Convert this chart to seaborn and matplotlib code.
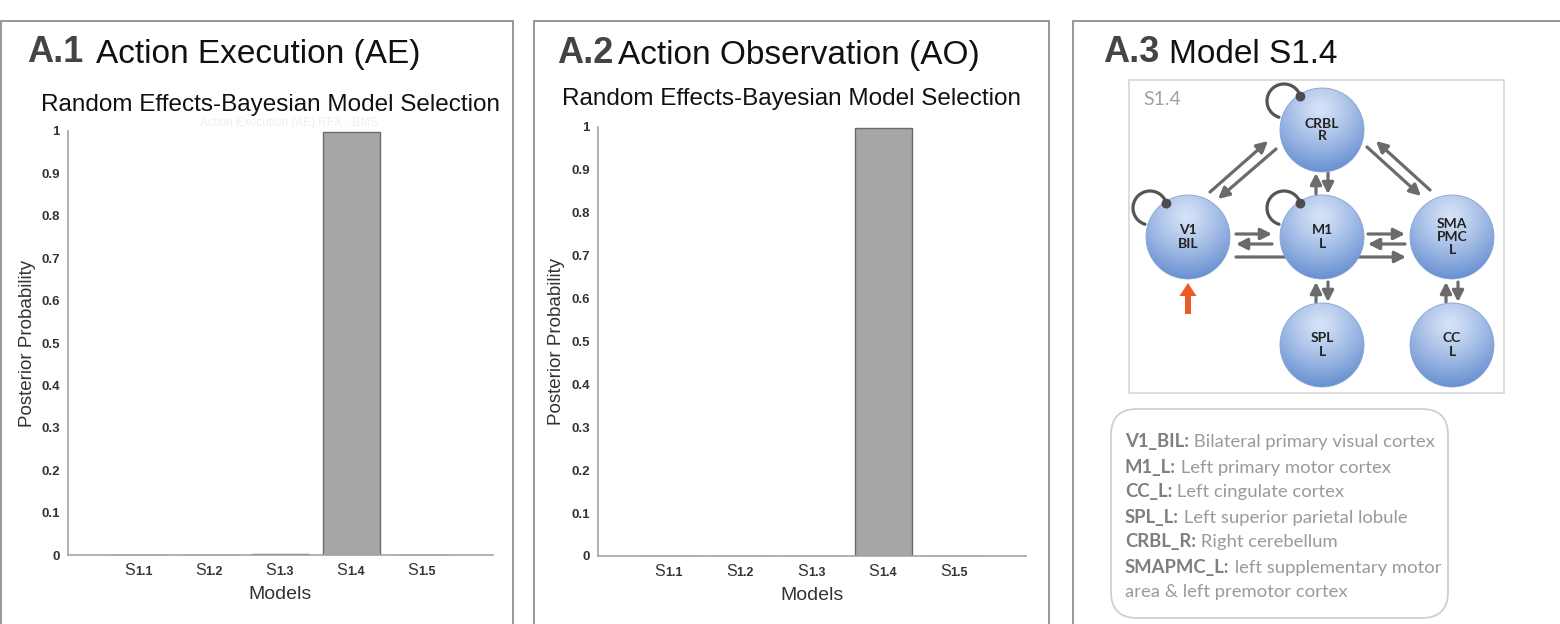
import numpy as np
import pandas as pd
import matplotlib
matplotlib.use("Agg")
import matplotlib.pyplot as plt
import seaborn as sns
from matplotlib import transforms
from matplotlib.patches import Circle, FancyBboxPatch, Rectangle, FancyArrow

# ---------------- data ----------------
models = ["S1.1", "S1.2", "S1.3", "S1.4", "S1.5"]
ae_prob = [0.0, 0.0, 0.003, 0.997, 0.0]
ao_prob = [0.001, 0.0, 0.0, 0.998, 0.001]
y_ticks = [0, 0.1, 0.2, 0.3, 0.4, 0.5, 0.6, 0.7, 0.8, 0.9, 1]
y_tick_labels = ["0", "0.1", "0.2", "0.3", "0.4", "0.5", "0.6", "0.7", "0.8", "0.9", "1"]

panel_tags = ["A.1", "A.2", "A.3"]
panel_titles = ["Action Execution (AE)", "Action Observation (AO)", "Model S1.4"]
subtitle = "Random Effects-Bayesian Model Selection"

node_names = ["CRBL", "V1", "M1", "SMA", "SPL", "CC"]
node_labels = ["CRBL\nR", "V1\nBIL", "M1\nL", "SMA\nPMC\nL", "SPL\nL", "CC\nL"]
self_loops = ["CRBL", "V1", "M1"]
connections = [("V1", "CRBL"), ("CRBL", "V1"), ("CRBL", "SMA"), ("SMA", "CRBL"),
               ("M1", "CRBL"), ("CRBL", "M1"), ("V1", "M1"), ("M1", "V1"),
               ("V1", "SMA"), ("M1", "SMA"), ("SMA", "M1"), ("SPL", "M1"),
               ("M1", "SPL"), ("CC", "SMA"), ("SMA", "CC")]

legend_terms = ["V1_BIL:", "M1_L:", "CC_L:", "SPL_L:", "CRBL_R:", "SMAPMC_L:", ""]
legend_desc = [" Bilateral primary visual cortex", " Left primary motor cortex",
               " Left cingulate cortex", " Left superior parietal lobule",
               " Right cerebellum", " left supplementary motor",
               "area & left premotor cortex"]

# ---------------- style ----------------
sns.set_style("white")
plt.rcParams["font.family"] = ["Liberation Sans", "DejaVu Sans"]

W, H = 1560, 624
fig = plt.figure(figsize=(W / 100, H / 100), dpi=100)
fig.patch.set_facecolor("white")


def px_axes(x0, x1, ytop, ybot):
    return fig.add_axes([x0 / W, (H - ybot) / H, (x1 - x0) / W, (ybot - ytop) / H])


bar_face = "#a6a6a6"
bar_edge = "#6a6a6a"
spine_col = "#a3a3a3"

ax1 = px_axes(68, 493, 131, 555)
ax2 = px_axes(598, 1026, 127, 556)

for ax, vals, lab_x, xl_y in [(ax1, ae_prob, -0.0753, -0.072), (ax2, ao_prob, -0.077, -0.073)]:
    df = pd.DataFrame({"Model": models, "Prob": vals})
    sns.barplot(data=df, x="Model", y="Prob", ax=ax, color=bar_face,
                edgecolor=bar_edge, linewidth=1.0, width=0.8, saturation=1)
    ax.set_xlim(-1, 5)
    ax.set_ylim(0, 1)
    ax.set_yticks(y_ticks)
    ax.set_yticklabels(y_tick_labels, fontsize=9.5, fontweight="bold", color="#333333")
    ax.set_xticks(range(len(models)))
    ax.set_xticklabels([])
    ax.tick_params(axis="both", direction="in", length=3, width=0.8, color="#999999", pad=6)
    for s in ["top", "right"]:
        ax.spines[s].set_visible(False)
    for s in ["left", "bottom"]:
        ax.spines[s].set_color(spine_col)
        ax.spines[s].set_linewidth(1.2)
    ax.set_ylabel("Posterior Probability", fontsize=13.5, color="#333333")
    ax.yaxis.set_label_coords(lab_x, 0.5)
    ax.set_xlabel("Models", fontsize=14, color="#333333")
    ax.xaxis.set_label_coords(0.5, xl_y)
    ax.patch.set_alpha(0)
    trans = transforms.blended_transform_factory(ax.transData, ax.transAxes)
    for i, m in enumerate(models):
        t1 = transforms.offset_copy(trans, fig=fig, x=-4, y=-20, units="dots")
        ax.text(i, 0, m[0], transform=t1, ha="right", va="baseline",
                fontsize=11.5, color="#333333")
        ax.text(i, 0, m[1:], transform=t1, ha="left", va="baseline",
                fontsize=9, fontweight="bold", color="#333333")

# faint ghost title behind A.1 (partly hidden in the reference)
ax1.text(0.52, 1.004, "Action Execution (AE) RFX - BMS", transform=ax1.transAxes,
         ha="center", va="bottom", fontsize=8.5, color="#efefef")

# ---------------- overlay (pixel coordinates) ----------------
ov = fig.add_axes([0, 0, 1, 1], zorder=5)
ov.patch.set_alpha(0)
ov.axis("off")

border = "#8e8e8e"
for (xl, xr) in [(1, 513), (534, 1049), (1073, 1562)]:
    ov.plot([xl, xl, xr, xr], [H + 5, 21, 21, H + 5], color=border, lw=1.3,
            solid_joinstyle="miter")

# titles
tag_pos = [(27, 62), (557, 63), (1103, 62)]
tag_gap = [9, 3, 7]
for tag, title, (tx, ty), gap in zip(panel_tags, panel_titles, tag_pos, tag_gap):
    t = ov.text(tx, ty, tag, fontsize=26, fontweight="bold", color="#444444",
                ha="left", va="baseline")
    ov.annotate(title, xy=(1, 0), xycoords=t, xytext=(gap, 0),
                textcoords="offset points", fontsize=24, color="#111111",
                ha="left", va="bottom")
ov.text(41, 111, subtitle, fontsize=17.5, color="#111111", ha="left", va="baseline")
ov.text(562, 105, subtitle, fontsize=17.5, color="#111111", ha="left", va="baseline")

# ---------------- diagram ----------------
ov.add_patch(Rectangle((1129, 80), 375, 313, fill=False, ec="#d6d6d6", lw=1.2))
ov.text(1143, 105, "S1.4", fontsize=14, color="#a0a0a0", ha="left", va="baseline",
        family=["Lato", "DejaVu Sans"])

layout = {"CRBL": (1322, 130), "V1": (1188, 237), "M1": (1322, 237),
          "SMA": (1452, 237), "SPL": (1322, 345), "CC": (1452, 345)}
R = 42

arrow_geom = {
    ("V1", "CRBL"): ((1210, 192), (1268, 141)),
    ("CRBL", "V1"): ((1276, 149), (1218, 199)),
    ("CRBL", "SMA"): ((1367, 147), (1421, 196)),
    ("SMA", "CRBL"): ((1430, 190), (1376, 141)),
    ("M1", "CRBL"): ((1316, 194), (1316, 173)),
    ("CRBL", "M1"): ((1328, 173), (1328, 194)),
    ("V1", "M1"): ((1236, 234), (1272, 234)),
    ("M1", "V1"): ((1272, 244), (1236, 244)),
    ("V1", "SMA"): ((1236, 257), (1406, 257)),
    ("M1", "SMA"): ((1368, 234), (1405, 234)),
    ("SMA", "M1"): ((1405, 244), (1368, 244)),
    ("SPL", "M1"): ((1316, 302), (1316, 282)),
    ("M1", "SPL"): ((1328, 282), (1328, 302)),
    ("CC", "SMA"): ((1446, 302), (1446, 282)),
    ("SMA", "CC"): ((1458, 282), (1458, 302)),
}
arrow_col = "#6b6b6b"
for c in connections:
    (x0, y0), (x1, y1) = arrow_geom[c]
    ov.annotate("", xy=(x1, y1), xytext=(x0, y0), zorder=2,
                arrowprops=dict(arrowstyle="-|>,head_length=0.55,head_width=0.28",
                                color=arrow_col, lw=2.3, shrinkA=0, shrinkB=0,
                                mutation_scale=12))

# gradient-filled nodes
n = 120
yy, xx = np.mgrid[0:n, 0:n]
u = (xx - n / 2) / (n / 2)
v = (yy - n / 2) / (n / 2)
d = np.sqrt((u + 0.05) ** 2 + (v + 0.5) ** 2) / 1.5
d = np.clip(d, 0, 1)
light = np.array([0.84, 0.89, 0.97])
dark = np.array([0.40, 0.56, 0.82])
grad = light[None, None, :] * (1 - d[..., None] ** 1.2) + dark[None, None, :] * (d[..., None] ** 1.2)

for name, lab in zip(node_names, node_labels):
    cx, cy = layout[name]
    im = ov.imshow(grad, extent=(cx - R, cx + R, cy + R, cy - R), origin="upper",
                   zorder=3, interpolation="bilinear")
    clip = Circle((cx, cy), R, transform=ov.transData)
    im.set_clip_path(clip)
    ov.add_patch(Circle((cx, cy), R, fill=False, ec="#86a3d6", lw=0.6, zorder=3.5))
    ov.text(cx, cy, lab, ha="center", va="center", fontsize=10, fontweight="bold",
            color="#222222", linespacing=1.1, zorder=4, family=["Lato", "DejaVu Sans"])

# self connections
th = np.deg2rad(np.linspace(107, 345, 60))
for name in self_loops:
    cx, cy = layout[name]
    lx, ly = cx - 38, cy - 29
    ov.plot(lx + 17 * np.cos(th), ly + 17 * np.sin(th), color="#555555", lw=2.3, zorder=2.5)
    ov.add_patch(Circle((lx + 17 * np.cos(th[-1]), ly + 17 * np.sin(th[-1])), 4.2,
                        color="#4d4d4d", zorder=4.5))

# driving input
vx, vy = layout["V1"]
ov.add_patch(FancyArrow(vx, vy + 77, 0, -31, width=6, head_width=17, head_length=13,
                        length_includes_head=True, color="#ee5a26", lw=0, zorder=3))

# ---------------- legend box ----------------
ov.add_patch(FancyBboxPatch((1111, 409), 337, 209,
                            boxstyle="round,pad=0,rounding_size=26",
                            fc="white", ec="#cfcfcf", lw=1.3, zorder=1))
line_y0, line_dy = 442, 25
for k, (term, desc) in enumerate(zip(legend_terms, legend_desc)):
    y = line_y0 + k * line_dy
    if term:
        t = ov.text(1125, y, term, fontsize=13.3, fontweight="bold", color="#7f7f7f",
                    ha="left", va="center", family=["Lato", "DejaVu Sans"], zorder=6)
        ov.annotate(desc, xy=(1, 0), xycoords=t, xytext=(0, 0),
                    textcoords="offset points", fontsize=13.3, color="#9a9a9a",
                    ha="left", va="bottom", family=["Lato", "DejaVu Sans"], zorder=6)
    else:
        ov.text(1125, y, desc, fontsize=13.3, color="#9a9a9a", ha="left", va="center",
                family=["Lato", "DejaVu Sans"], zorder=6)

ov.set_xlim(0, W)
ov.set_ylim(H, 0)
ov.set_aspect("auto")

fig.savefig("out.png", dpi=100, facecolor="white")
